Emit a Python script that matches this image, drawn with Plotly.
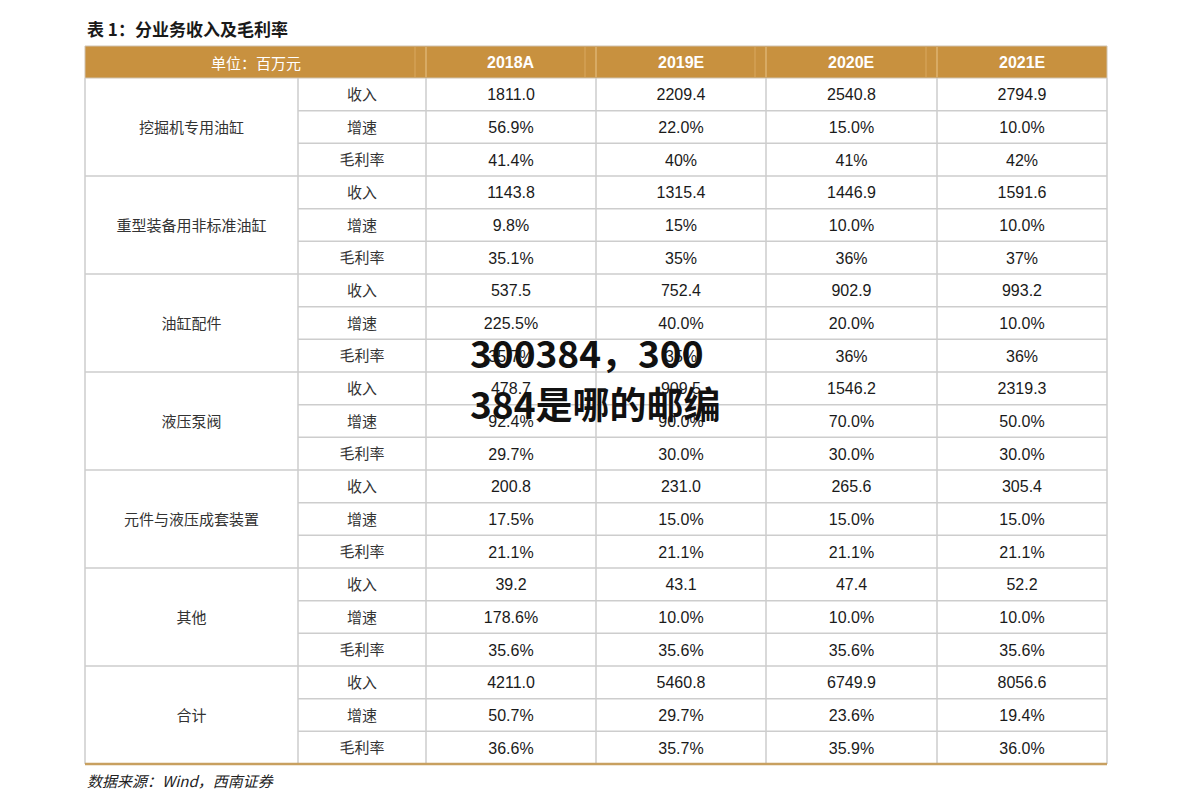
import plotly.graph_objects as go

# ---------------- data ----------------
title_text = "表 1：分业务收入及毛利率"
unit_label = "单位：百万元"
source_text = "数据来源：Wind，西南证券"
watermark_lines = ["300384，300", "384是哪的邮编"]

years = ["2018A", "2019E", "2020E", "2021E"]
groups = ["挖掘机专用油缸", "重型装备用非标准油缸", "油缸配件", "液压泵阀",
          "元件与液压成套装置", "其他", "合计"]
metrics = ["收入", "增速", "毛利率"]

revenue = [
    ["1811.0", "2209.4", "2540.8", "2794.9"],
    ["1143.8", "1315.4", "1446.9", "1591.6"],
    ["537.5", "752.4", "902.9", "993.2"],
    ["478.7", "909.5", "1546.2", "2319.3"],
    ["200.8", "231.0", "265.6", "305.4"],
    ["39.2", "43.1", "47.4", "52.2"],
    ["4211.0", "5460.8", "6749.9", "8056.6"],
]
growth = [
    ["56.9%", "22.0%", "15.0%", "10.0%"],
    ["9.8%", "15%", "10.0%", "10.0%"],
    ["225.5%", "40.0%", "20.0%", "10.0%"],
    ["92.4%", "90.0%", "70.0%", "50.0%"],
    ["17.5%", "15.0%", "15.0%", "15.0%"],
    ["178.6%", "10.0%", "10.0%", "10.0%"],
    ["50.7%", "29.7%", "23.6%", "19.4%"],
]
margin = [
    ["41.4%", "40%", "41%", "42%"],
    ["35.1%", "35%", "36%", "37%"],
    ["35.7%", "35%", "36%", "36%"],
    ["29.7%", "30.0%", "30.0%", "30.0%"],
    ["21.1%", "21.1%", "21.1%", "21.1%"],
    ["35.6%", "35.6%", "35.6%", "35.6%"],
    ["36.6%", "35.7%", "35.9%", "36.0%"],
]

# ---------------- layout geometry ----------------
W, H = 1191, 811
PAGE_OFF = 8  # default page margin of the html body
col_edges = [85, 298, 426, 596, 766, 937, 1107]
head_top, head_bot = 46, 78
table_bot = 764
n_rows = len(groups) * len(metrics)
row_h = (table_bot - head_bot) / n_rows
TXT_DY = 2  # visual centring of text inside cells

HEAD_BG = "#C8913F"
GRID = "#CDCDCD"
GOLD = "#C8A060"
CJK = "Noto Sans CJK SC"
NUM = "Liberation Sans, Arial, sans-serif"

fig = go.Figure()
shapes = []
annotations = []

# header background
shapes.append(dict(type="rect", xref="x", yref="y", x0=col_edges[0], x1=col_edges[-1],
                   y0=head_top, y1=head_bot, fillcolor=HEAD_BG,
                   line=dict(color="#CFC2B0", width=1), layer="below"))
# light separators inside header
for xe in col_edges[2:-1]:
    shapes.append(dict(type="line", xref="x", yref="y", x0=xe, x1=xe, y0=head_top + 1,
                       y1=head_bot - 1, line=dict(color="#E8C48A", width=1)))
    shapes.append(dict(type="line", xref="x", yref="y", x0=xe - 11, x1=xe - 11, y0=head_top + 1,
                       y1=head_bot - 1, line=dict(color="#D9A860", width=1)))

# horizontal grid lines
for r in range(1, n_rows):
    y = head_bot + r * row_h
    x0 = col_edges[0] if r % len(metrics) == 0 else col_edges[1]
    shapes.append(dict(type="line", xref="x", yref="y", x0=x0, x1=col_edges[-1],
                       y0=y, y1=y, line=dict(color=GRID, width=1.5)))
# vertical grid lines
for xe in col_edges:
    shapes.append(dict(type="line", xref="x", yref="y", x0=xe, x1=xe,
                       y0=head_bot, y1=table_bot, line=dict(color=GRID, width=1.5)))
# bottom gold rule
shapes.append(dict(type="line", xref="x", yref="y", x0=col_edges[0], x1=col_edges[-1],
                   y0=table_bot, y1=table_bot, line=dict(color=GOLD, width=2.5)))

# header texts
annotations.append(dict(x=(col_edges[0] + col_edges[2]) / 2, y=(head_top + head_bot) / 2,
                        xref="x", yref="y", text=unit_label, showarrow=False,
                        font=dict(family=CJK, size=15, color="#FFFFFF")))
for j, yr in enumerate(years):
    annotations.append(dict(x=(col_edges[2 + j] + col_edges[3 + j]) / 2,
                            y=(head_top + head_bot) / 2, xref="x", yref="y",
                            text="<b>" + yr + "</b>", showarrow=False,
                            font=dict(family=NUM, size=16, color="#FFFFFF")))

# group labels and metric labels
gx, gy, gt = [], [], []
mx, my, mt = [], [], []
dx, dy, dt = [], [], []
for g, name in enumerate(groups):
    gx.append((col_edges[0] + col_edges[1]) / 2)
    gy.append(head_bot + (g * len(metrics) + len(metrics) / 2) * row_h + TXT_DY)
    gt.append(name)
    rows = [revenue[g], growth[g], margin[g]]
    for m, met in enumerate(metrics):
        yc = head_bot + (g * len(metrics) + m + 0.5) * row_h + TXT_DY
        mx.append((col_edges[1] + col_edges[2]) / 2)
        my.append(yc)
        mt.append(met)
        for j in range(len(years)):
            dx.append((col_edges[2 + j] + col_edges[3 + j]) / 2)
            dy.append(yc)
            dt.append(rows[m][j])

fig.add_trace(go.Scatter(x=gx, y=gy, text=gt, mode="text", hoverinfo="skip",
                         textfont=dict(family=CJK, size=15, color="#333333")))
fig.add_trace(go.Scatter(x=mx, y=my, text=mt, mode="text", hoverinfo="skip",
                         textfont=dict(family=CJK, size=15, color="#333333")))
fig.add_trace(go.Scatter(x=dx, y=dy, text=dt, mode="text", hoverinfo="skip",
                         textfont=dict(family=NUM, size=16, color="#1A1A1A")))

# title and source
annotations.append(dict(x=col_edges[0], y=28, xref="x", yref="y", xanchor="left",
                        text="<b>" + title_text + "</b>", showarrow=False,
                        font=dict(family=CJK, size=17, color="#1A1A1A")))
annotations.append(dict(x=col_edges[0], y=780, xref="x", yref="y", xanchor="left",
                        text="<i>" + source_text + "</i>", showarrow=False,
                        font=dict(family=CJK, size=15, color="#222222")))

# watermark text
for i, line in enumerate(watermark_lines):
    annotations.append(dict(x=468, y=352 + i * 51, xref="x", yref="y", xanchor="left",
                            text="<b>" + line + "</b>", showarrow=False,
                            font=dict(family=CJK, size=37, color="#111111")))

fig.update_layout(
    width=W, height=H, margin=dict(l=0, r=0, t=0, b=0),
    paper_bgcolor="white", plot_bgcolor="white", showlegend=False,
    xaxis=dict(range=[PAGE_OFF, W + PAGE_OFF], visible=False, fixedrange=True),
    yaxis=dict(range=[H + PAGE_OFF, PAGE_OFF], visible=False, fixedrange=True),
    shapes=shapes, annotations=annotations,
)

fig.write_html("out.html")
